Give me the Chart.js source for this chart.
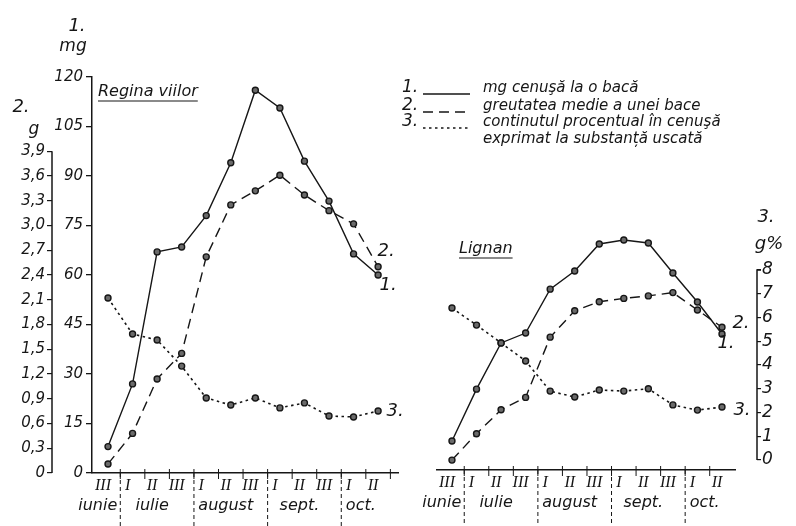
<!DOCTYPE html>
<html><head><meta charset="utf-8">
<script src="https://cdn.jsdelivr.net/npm/chart.js@4/dist/chart.umd.min.js"></script>
<style>
html,body{margin:0;padding:0;background:#fff;}
#wrap{position:relative;width:796px;height:526px;background:#fff;}
canvas{position:absolute;left:0;top:0;}
</style></head><body>
<div id="wrap"><canvas id="c1" width="796" height="526"></canvas><canvas id="c2" width="796" height="526"></canvas></div>
<script>
// ---- data ----
const periods = ['III','I','II','III','I','II','III','I','II','III','I','II'];
const months = ['iunie','iulie','august','sept.','oct.'];
const monthFirst = [0,1,4,7,10];
const monthLast = [0,3,6,9,11];
const mgTicks = [0,15,30,45,60,75,90,105,120];
const gTicks = [0,0.3,0.6,0.9,1.2,1.5,1.8,2.1,2.4,2.7,3.0,3.3,3.6,3.9];
const pctTicks = [0,1,2,3,4,5,6,7,8];
const reginaAsh = [8,27,67,68.5,78,94,116,110.6,94.5,82.4,66.4,60];
const reginaWeight = [0.11,0.48,1.14,1.45,2.62,3.25,3.42,3.61,3.37,3.18,3.02,2.50];
const reginaPct = [6.95,5.43,5.18,4.08,2.74,2.44,2.74,2.32,2.53,1.98,1.94,2.19];
const lignanAsh = [8.8,24.5,38.5,41.5,54.8,60.3,68.5,69.7,68.8,59.7,50.9,41.2];
const lignanWeight = [0.12,0.44,0.73,0.88,1.61,1.93,2.04,2.08,2.11,2.15,1.94,1.73];
const lignanPct = [6.4,5.68,4.93,4.17,2.9,2.65,2.95,2.9,3.0,2.32,2.1,2.23];
const legendItems = ['mg cenuşă la o bacă','greutatea medie a unei bace','continutul procentual în cenuşă','exprimat la substanță uscată'];

// ---- style ----
const ink = '#161616';
const SANS = '"DejaVu Sans", "Liberation Sans", sans-serif';
const SERIF = '"Liberation Serif", "DejaVu Serif", serif';
const f = (size, fam) => ({family: fam || SANS, size: size, style: 'italic'});
const fstr = (size, fam) => `italic ${size}px ${fam || SANS}`;
const dashes = [[], [10, 6], [2.5, 3.5]];

function pts(arr){ return arr.map((v,i)=>({x:i,y:v})); }
function ds(arr, axis, k){
  return {data: pts(arr), yAxisID: axis, borderColor: ink, borderWidth: k===2?1.6:1.4,
    borderDash: dashes[k], pointRadius: 3, pointBorderWidth: 1.4,
    pointBackgroundColor: '#6a6a6a', pointBorderColor: ink, tension: 0, clip: false};
}

function xScale(min, max, h){
  return {type:'linear', min:min, max:max,
    afterBuildTicks: s => { s.ticks = periods.map((_,i)=>({value:i})); },
    afterFit: s => { s.height = h; },
    ticks:{autoSkip:false, maxRotation:0, labelOffset:-5, padding:3, color:ink, font:f(16, SERIF),
      callback: v => periods[Math.round(v)]},
    grid:{display:false, drawTicks:false},
    border:{display:true, color:ink, width:1.5}};
}

function decorateX(chart){
  const {ctx, chartArea:a} = chart; const xs = chart.scales.x;
  ctx.save();
  ctx.strokeStyle = ink; ctx.lineWidth = 1;
  for (let i=0;i<periods.length;i++){
    const px = xs.getPixelForValue(i+0.5);
    if (px > a.right-2) continue;
    ctx.beginPath(); ctx.moveTo(px, a.bottom-4); ctx.lineTo(px, a.bottom+6); ctx.stroke();
  }
  ctx.setLineDash([4,3]);
  monthFirst.slice(1).forEach(fi => {
    const px = xs.getPixelForValue(fi-0.5);
    ctx.beginPath(); ctx.moveTo(px, a.bottom); ctx.lineTo(px, chart.height); ctx.stroke();
  });
  ctx.setLineDash([]);
  ctx.fillStyle = ink; ctx.font = fstr(16); ctx.textBaseline = 'middle';
  months.forEach((m,k)=>{
    if (k===0){ ctx.textAlign='right'; ctx.fillText(m, xs.getPixelForValue(monthFirst[1]-0.5)-3, a.bottom+33); }
    else { ctx.textAlign='center'; ctx.fillText(m, xs.getPixelForValue((monthFirst[k]+monthLast[k])/2)-5, a.bottom+33); }
  });
  ctx.restore();
}

function txt(ctx, s, x, y, size, align, fam){
  ctx.font = fstr(size, fam); ctx.textAlign = align || 'left'; ctx.textBaseline = 'middle';
  ctx.fillText(s, x, y);
}
function underlined(ctx, s, x, y, size){
  txt(ctx, s, x, y, size, 'left');
  const w = ctx.measureText(s).width;
  ctx.beginPath(); ctx.moveTo(x, y+9); ctx.lineTo(x+w, y+9); ctx.lineWidth = 1.2; ctx.stroke();
}
function endLabels(chart, offs){
  const ctx = chart.ctx;
  offs.forEach((o, k) => {
    const meta = chart.getDatasetMeta(k); const p = meta.data[meta.data.length-1];
    txt(ctx, (k+1)+'.', p.x+o[0], p.y+o[1], 18, 'center');
  });
}

const leftPlugin = {id:'leftDeco', afterDraw(chart){
  const ctx = chart.ctx; const a = chart.chartArea; const g = chart.scales.g; const mg = chart.scales.mg;
  ctx.save();
  ctx.strokeStyle = ink; ctx.fillStyle = ink; ctx.lineWidth = 1.5;
  ctx.beginPath(); ctx.moveTo(g.right, g.getPixelForValue(0)); ctx.lineTo(g.right, g.getPixelForValue(gTicks[gTicks.length-1])); ctx.stroke();
  // axis titles
  txt(ctx, '1.', mg.right-15, 26, 18, 'center');
  txt(ctx, 'mg', mg.right-19, 47, 17, 'center');
  txt(ctx, '2.', 21, 107, 18, 'center');
  txt(ctx, 'g', 34, 130, 17, 'center');
  underlined(ctx, 'Regina viilor', a.left+6, 92, 16);
  // legend
  const lx = 402, sx0 = 423, sx1 = 470, tx = 483, ly = [88, 106, 122, 139];
  for (let k=0;k<3;k++){
    txt(ctx, (k+1)+'.', lx, ly[k], 17, 'left');
    ctx.setLineDash(dashes[k]); ctx.lineWidth = 1.3;
    ctx.beginPath(); ctx.moveTo(sx0, ly[k]+6); ctx.lineTo(sx1, ly[k]+6); ctx.stroke();
    ctx.setLineDash([]);
  }
  legendItems.forEach((s,k)=> txt(ctx, s, tx, ly[k], 15, 'left'));
  endLabels(chart, [[10,10],[8,-15],[17,0]]);
  ctx.restore();
  decorateX(chart);
}};

const rightPlugin = {id:'rightDeco', afterDraw(chart){
  const ctx = chart.ctx; const a = chart.chartArea; const p = chart.scales.pct;
  ctx.save();
  ctx.strokeStyle = ink; ctx.fillStyle = ink; ctx.lineWidth = 1.5;
  const top = p.getPixelForValue(pctTicks[pctTicks.length-1]);
  ctx.beginPath(); ctx.moveTo(p.left+4, top); ctx.lineTo(p.left, top); ctx.lineTo(p.left, p.getPixelForValue(0)); ctx.stroke();
  txt(ctx, '3.', p.left+9, 217, 18, 'center');
  txt(ctx, 'g%', p.left+12, 244, 18, 'center');
  underlined(ctx, 'Lignan', 459, 249, 16);
  endLabels(chart, [[4,9],[19,-4],[20,3]]);
  ctx.restore();
  decorateX(chart);
}};

const common = {responsive:false, animation:false, devicePixelRatio:1,
  plugins:{legend:{display:false}, tooltip:{enabled:false}}};

new Chart(document.getElementById('c1'), {
  type:'line',
  data:{datasets:[ds(reginaAsh,'mg',0), ds(reginaWeight,'g',1), ds(reginaPct,'pct',2)]},
  options:Object.assign({}, common, {
    layout:{padding:{left:0, top:77, right:398, bottom:0}},
    scales:{
      x: xScale(-0.652, 11.81, 53),
      mg:{type:'linear', position:'left', weight:1, min:0, max:120,
        afterBuildTicks: s => { s.ticks = mgTicks.map(v=>({value:v})); },
        afterFit: s => { s.width = 40; },
        ticks:{color:ink, font:f(15), padding:3},
        grid:{drawOnChartArea:false, tickLength:6, color:ink, lineWidth:1.3},
        border:{display:true, color:ink, width:1.5}},
      g:{type:'linear', position:'left', weight:2, min:0, max:4.8,
        afterBuildTicks: s => { s.ticks = gTicks.map(v=>({value:v})); },
        afterFit: s => { s.width = 52; },
        ticks:{color:ink, font:f(15), padding:2, callback: v => v===0 ? '0' : v.toFixed(1).replace('.', ',')},
        grid:{drawOnChartArea:false, tickLength:5, color:ink, lineWidth:1.2},
        border:{display:false}},
      pct:{type:'linear', display:false, min:-0.421, max:16.253}
    }
  }),
  plugins:[leftPlugin]
});

new Chart(document.getElementById('c2'), {
  type:'line',
  data:{datasets:[ds(lignanAsh,'mg',0), ds(lignanWeight,'g',1), ds(lignanPct,'pct',2)]},
  options:Object.assign({}, common, {
    layout:{padding:{left:437, top:77, right:0, bottom:0}},
    scales:{
      x: xScale(-0.61, 11.53, 56),
      mg:{type:'linear', display:false, min:0, max:119.09},
      g:{type:'linear', display:false, min:0, max:4.7636},
      spacer:{type:'linear', position:'right', weight:1, display:true,
        ticks:{display:false}, grid:{display:false}, border:{display:false},
        afterFit: s => { s.width = 22; }},
      pct:{type:'linear', position:'right', weight:2, min:-0.421, max:16.126,
        afterBuildTicks: s => { s.ticks = pctTicks.map(v=>({value:v})); },
        afterFit: s => { s.width = 39; },
        ticks:{color:ink, font:f(17), padding:1},
        grid:{drawOnChartArea:false, tickLength:4, color:ink, lineWidth:1.2},
        border:{display:false}}
    }
  }),
  plugins:[rightPlugin]
});
</script>
</body></html>
